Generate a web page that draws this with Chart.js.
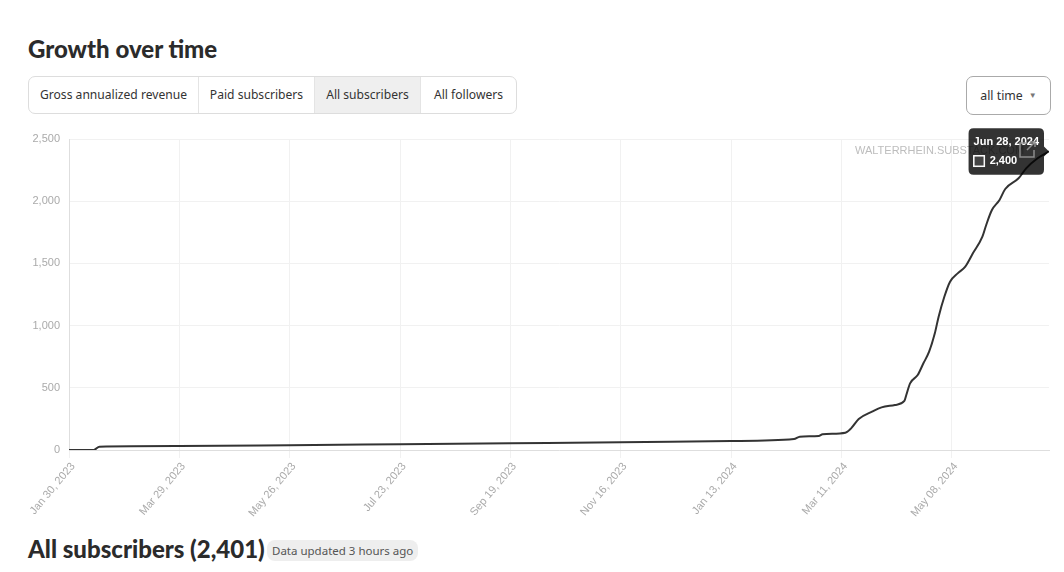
<!DOCTYPE html>
<html>
<head>
<meta charset="utf-8">
<script src="https://cdn.jsdelivr.net/npm/chart.js@4.4.1/dist/chart.umd.min.js"></script>
<style>
  body { margin: 0; background: #fff; font-family: "Noto Sans", Arial, sans-serif; color: #333; }
  #page { position: relative; width: 1064px; height: 572px; overflow: hidden; }
  h1, h2 { position: absolute; margin: 0; left: 28px; font-family: Lato, sans-serif; font-weight: 900; font-size: 24px; color: #2b2b2b; line-height: 28px; }
  h1 { top: 35px; }
  h2 { top: 535px; }
  .tabs { position: absolute; left: 28px; top: 76px; height: 36px; border: 1px solid #ddd; border-radius: 7px; display: flex; overflow: hidden; }
  .tabs div { height: 36px; line-height: 36px; font-size: 12.1px; text-align: center; border-right: 1px solid #e4e4e4; }
  .tabs div:last-child { border-right: none; }
  .tabs .on { background: #efefef; }
  .range { position: absolute; left: 966px; top: 76px; width: 83px; height: 37px; border: 1px solid #aaa; border-radius: 7px; font-size: 12.3px; line-height: 37px; text-align: center; }
  .range span { font-size: 8px; color: #777; margin-left: 6px; position: relative; top: -2px; }
  .pill { position: absolute; left: 267px; top: 540px; height: 21px; line-height: 21px; padding: 0 5px; background: #eee; border-radius: 8px; font-size: 11.5px; color: #555; }
  #wrap { position: absolute; left: 0; top: 120px; width: 1064px; height: 410px; }
</style>
</head>
<body>
<div id="page">
  <h1>Growth over time</h1>
  <div class="tabs">
    <div style="width:169px">Gross annualized revenue</div>
    <div style="width:115px">Paid subscribers</div>
    <div class="on" style="width:105px">All subscribers</div>
    <div style="width:95px">All followers</div>
  </div>
  <div class="range">all time<span>&#9660;</span></div>
  <div id="wrap"><canvas id="growthChart"></canvas></div>
  <h2>All subscribers (2,401)</h2>
  <div class="pill">Data updated 3 hours ago</div>
</div>
<script>
var startDate = '2023-01-30';

var dates = [
  '2023-01-30', '2023-02-12', '2023-02-15', '2023-03-29', '2023-05-26', '2023-07-23',
  '2023-09-19', '2023-11-16', '2024-01-13', '2024-02-15', '2024-02-18', '2024-02-28',
  '2024-03-01', '2024-03-13', '2024-03-16', '2024-03-20', '2024-03-27', '2024-04-01',
  '2024-04-08', '2024-04-13', '2024-04-14', '2024-04-16', '2024-04-20', '2024-04-23',
  '2024-04-26', '2024-04-29', '2024-05-01', '2024-05-04', '2024-05-07', '2024-05-11',
  '2024-05-15', '2024-05-19', '2024-05-24', '2024-05-26', '2024-05-29', '2024-06-02',
  '2024-06-05', '2024-06-12', '2024-06-16', '2024-06-22', '2024-06-28'
];
var subscribers = [
  0, 0, 27, 32, 38, 46,
  54, 62, 72, 88, 107, 113,
  126, 139, 174, 249, 308, 343,
  362, 394, 442, 536, 603, 697,
  790, 938, 1072, 1232, 1353, 1420,
  1474, 1581, 1715, 1809, 1929, 2010,
  2098, 2184, 2264, 2345, 2400
];

var tickDates = ['2023-01-30', '2023-03-29', '2023-05-26', '2023-07-23', '2023-09-19',
  '2023-11-16', '2024-01-13', '2024-03-11', '2024-05-08'];
var tickLabels = ['Jan 30, 2023', 'Mar 29, 2023', 'May 26, 2023', 'Jul 23, 2023', 'Sep 19, 2023',
  'Nov 16, 2023', 'Jan 13, 2024', 'Mar 11, 2024', 'May 08, 2024'];
var yTicks = [0, 500, 1000, 1500, 2000, 2500];

var months = ['Jan','Feb','Mar','Apr','May','Jun','Jul','Aug','Sep','Oct','Nov','Dec'];

function dayOf(s) {
  return Math.round((Date.parse(s) - Date.parse(startDate)) / 86400000);
}
function fmtDate(s) {
  var d = new Date(s);
  return months[d.getUTCMonth()] + ' ' + d.getUTCDate() + ', ' + d.getUTCFullYear();
}

var points = dates.map(function (d, i) { return { x: dayOf(d), y: subscribers[i] }; });
var axisFont = { family: 'Liberation Sans', size: 11 };

var watermark = {
  id: 'watermark',
  beforeDatasetsDraw: function (chart) {
    var c = chart.ctx, a = chart.chartArea;
    c.save();
    c.font = '11px "Liberation Sans"';
    c.fillStyle = '#bdbdbd';
    c.textAlign = 'left';
    c.textBaseline = 'middle';
    c.fillText('WALTERRHEIN.SUBSTACK.COM', a.right - 194, 31);
    c.restore();
  },
  afterTooltipDraw: function (chart) {
    var c = chart.ctx, a = chart.chartArea;
    var x = a.right - 29, y = 23;
    c.save();
    c.strokeStyle = 'rgba(150,150,150,0.9)';
    c.lineWidth = 1.5;
    c.beginPath();
    c.moveTo(x + 7, y); c.lineTo(x, y); c.lineTo(x, y + 14); c.lineTo(x + 14, y + 14); c.lineTo(x + 14, y + 7);
    c.moveTo(x + 7, y + 7); c.lineTo(x + 15, y - 1);
    c.moveTo(x + 10, y - 1); c.lineTo(x + 15, y - 1); c.lineTo(x + 15, y + 4);
    c.stroke();
    c.restore();
  }
};

var ctx = document.getElementById('growthChart');
var chart = new Chart(ctx, {
  type: 'line',
  data: {
    datasets: [{
      label: 'All subscribers',
      data: points,
      borderColor: '#333',
      backgroundColor: '#444',
      borderWidth: 2,
      pointRadius: 0,
      pointHoverRadius: 0,
      cubicInterpolationMode: 'monotone'
    }]
  },
  options: {
    responsive: true,
    maintainAspectRatio: false,
    animation: false,
    layout: { padding: { top: 19, right: 15, left: 0, bottom: 0 } },
    interaction: { mode: 'index', intersect: false },
    plugins: {
      legend: { display: false },
      tooltip: {
        backgroundColor: 'rgba(0,0,0,0.8)',
        titleFont: { family: 'Liberation Sans', size: 11, weight: 'bold' },
        bodyFont: { family: 'Liberation Sans', size: 11, weight: 'bold' },
        padding: { top: 7, bottom: 7, left: 5, right: 5 },
        cornerRadius: 5,
        caretSize: 5,
        caretPadding: 0,
        boxWidth: 11,
        boxHeight: 11,
        titleMarginBottom: 6,
        callbacks: {
          title: function (items) { return fmtDate(dates[items[0].dataIndex]); },
          label: function (item) { return ' ' + item.parsed.y.toLocaleString('en-US'); },
          labelColor: function () { return { borderColor: '#fff', backgroundColor: '#444', borderWidth: 1 }; }
        }
      }
    },
    scales: {
      x: {
        type: 'linear',
        min: 0,
        max: dayOf(dates[dates.length - 1]),
        afterBuildTicks: function (axis) {
          axis.ticks = tickDates.map(function (d) { return { value: dayOf(d) }; });
        },
        afterFit: function (axis) { axis.height = 80; },
        ticks: {
          autoSkip: false,
          minRotation: 50,
          maxRotation: 50,
          color: '#aaa',
          font: axisFont,
          padding: 2,
          labelOffset: 4,
          callback: function (v) {
            var i = tickDates.map(dayOf).indexOf(v);
            return i >= 0 ? tickLabels[i] : '';
          }
        },
        grid: { color: '#f1f1f1', tickLength: 8 },
        border: { color: '#dedede' }
      },
      y: {
        min: 0,
        max: 2500,
        afterBuildTicks: function (axis) {
          axis.ticks = yTicks.map(function (v) { return { value: v }; });
        },
        afterFit: function (axis) { axis.width = 69; },
        ticks: {
          color: '#aaa',
          font: axisFont,
          padding: 9,
          callback: function (v) { return v.toLocaleString('en-US'); }
        },
        grid: { color: '#f1f1f1', drawTicks: false },
        border: { color: '#dedede' }
      }
    }
  },
  plugins: [watermark]
});

var last = points.length - 1;
var meta = chart.getDatasetMeta(0);
chart.tooltip.setActiveElements([{ datasetIndex: 0, index: last }],
  { x: meta.data[last].x, y: meta.data[last].y });
chart.update();
</script>
</body>
</html>
